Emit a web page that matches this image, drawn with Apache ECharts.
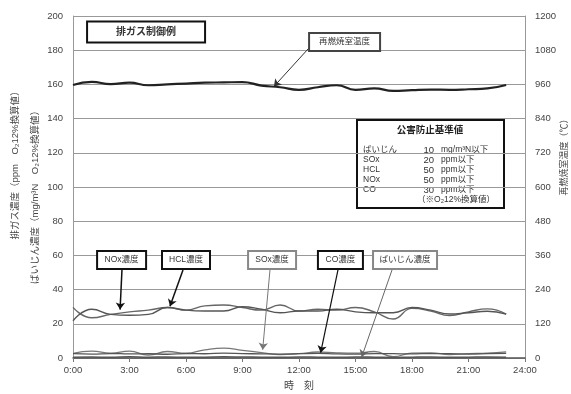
<!DOCTYPE html>
<html>
<head>
<meta charset="utf-8">
<script src="https://cdn.jsdelivr.net/npm/echarts@6/dist/echarts.min.js"></script>
<style>html,body{margin:0;padding:0;background:#fff}#c{width:571px;height:394px}</style>
</head>
<body>
<div id="c"></div>
<script>
// ---- data ----
const hours = [0,1,2,3,4,5,6,7,8,9,10,11,12,13,14,15,16,17,18,19,20,21,22,23];
const tempC  = [958,969,961,966,957,960,963,966,967,968,956,950,941,950,957,941,946,937,940,942,941,943,946,958];
const noxPpm = [29.6,23.5,25.5,27,28,29.5,28,30.5,31,29.5,28,31,27.5,28.5,28,29.5,27,22.8,29,27.5,24.8,27,28.7,25.7];
const hclPpm = [21.8,28.5,25.5,25,25.5,29.5,28,27.5,27.5,30,28.5,26.5,27.5,27.5,28.5,27,26.5,26.5,29.5,28,25.7,26.5,27.3,25.7];
const soxPpm = [2.7,4,2.8,4,1.7,3.8,2.8,4.8,5.8,4.5,3.2,2,2.5,3.5,3,2.8,3.8,0.8,2.8,3,2,2.5,2.8,3.6];
const coPpm  = [2.5,2.3,2.6,2.4,2.5,2.2,2.6,2.5,2.8,2.6,2.4,2.3,2.5,2.7,2.4,2.3,2.6,2.5,2.4,2.6,2.5,2.3,2.5,2.7];
const dustMg = [0.5,0.6,0.4,0.7,0.5,0.6,0.4,0.5,0.7,0.6,0.5,0.4,0.6,0.5,0.4,0.6,0.5,0.3,0.5,0.6,0.4,0.5,0.6,0.5];
const timeLabels = ['0:00','3:00','6:00','9:00','12:00','15:00','18:00','21:00','24:00'];
const leftTicks  = [0,20,40,60,80,100,120,140,160,180,200];
const rightTicks = [0,120,240,360,480,600,720,840,960,1080,1200];
const seriesNames = ['NOx濃度','HCL濃度','SOx濃度','CO濃度','ばいじん濃度'];
const standardRows = [
  ['ばいじん','10','mg/m³N以下'],
  ['SOx','20','ppm以下'],
  ['HCL','50','ppm以下'],
  ['NOx','50','ppm以下'],
  ['CO','30','ppm以下']
];
// ---- chart ----
const FONT = "'Liberation Sans','Noto Sans CJK JP',sans-serif";
const pairs = arr => hours.map((h,i)=>[h,arr[i]]);
const chart = echarts.init(document.getElementById('c'), null, {renderer:'canvas'});

function box(name, t, v, w, h, border, bold, fs){
  return {name:name, coord:[t,v], symbol:'rect', symbolSize:0,
    itemStyle:{color:'transparent'},
    label:{show:true, position:'inside', formatter:'{b}', color:'#333', fontSize:fs||8.5,
      fontWeight: bold?'bold':'normal', fontFamily:FONT,
      backgroundColor:'#fff', borderColor:border, borderWidth:2, padding:0,
      width:w-2, height:h-2, lineHeight:h-2, align:'center', verticalAlign:'middle'}};
}
function arrow(t1,v1,t2,v2,color,w){
  return [{coord:[t1,v1], lineStyle:{color:color,width:w,type:'solid'}},{coord:[t2,v2]}];
}

const option = {
  animation:false,
  textStyle:{fontFamily:FONT},
  grid:{left:73, right:46, top:16, bottom:36, containLabel:false, outerBoundsMode:'none'},
  xAxis:{type:'value', min:0, max:24, interval:3,
    axisLine:{show:true, lineStyle:{color:'#555', width:1.5}},
    axisTick:{show:true, length:4, lineStyle:{color:'#777'}},
    axisLabel:{color:'#444', fontSize:9.5, margin:8, formatter:v=>timeLabels[Math.round(v/3)]},
    splitLine:{show:false},
    name:'時　刻', nameLocation:'middle', nameGap:23,
    nameTextStyle:{color:'#444', fontSize:10}},
  yAxis:[
    {type:'value', min:leftTicks[0], max:leftTicks[leftTicks.length-1], interval:leftTicks[1]-leftTicks[0],
     axisLine:{show:true, lineStyle:{color:'#999'}}, axisTick:{show:false},
     axisLabel:{color:'#444', fontSize:9.5, margin:10, formatter:v=>String(v)},
     splitLine:{show:true, lineStyle:{color:'#999', width:1}}},
    {type:'value', min:rightTicks[0], max:rightTicks[rightTicks.length-1], interval:rightTicks[1]-rightTicks[0],
     position:'right',
     axisLine:{show:true, lineStyle:{color:'#999'}}, axisTick:{show:false},
     axisLabel:{color:'#444', fontSize:9.5, margin:10, formatter:v=>String(v)},
     splitLine:{show:false}}
  ],
  series:[
    {name:'再燃焼室温度', type:'line', yAxisIndex:1, data:pairs(tempC), smooth:0.5, symbol:'none',
     lineStyle:{color:'#222', width:2.2}, z:5},
    {name:seriesNames[0], type:'line', data:pairs(noxPpm), smooth:0.5, symbol:'none',
     lineStyle:{color:'#666', width:1.4}, z:4},
    {name:seriesNames[1], type:'line', data:pairs(hclPpm), smooth:0.5, symbol:'none',
     lineStyle:{color:'#555', width:1.4}, z:4},
    {name:seriesNames[2], type:'line', data:pairs(soxPpm), smooth:0.5, symbol:'none',
     lineStyle:{color:'#777', width:1.3}, z:4},
    {name:seriesNames[3], type:'line', data:pairs(coPpm), smooth:0.5, symbol:'none',
     lineStyle:{color:'#555', width:1.3}, z:4},
    {name:seriesNames[4], type:'line', data:pairs(dustMg), smooth:0.5, symbol:'none',
     lineStyle:{color:'#555', width:1.5}, z:4},
    {name:'annotations', type:'line', data:[], silent:true, z:6,
     markLine:{silent:true, symbol:['none','arrow'], symbolSize:7, label:{show:false},
       emphasis:{disabled:true},
       data:[
         arrow(12.53,181.3,10.67,158.8,'#333',1),
         arrow(2.60,51.5,2.50,28.3,'#111',1.5),
         arrow(5.84,51.5,5.15,30.2,'#111',1.5),
         arrow(10.46,51.5,10.07,4.8,'#777',1),
         arrow(14.07,51.5,13.15,3.1,'#111',1.2),
         arrow(16.94,51.5,15.33,0.6,'#666',1)
       ]},
     markPoint:{silent:true, emphasis:{disabled:true},
       data:[
         box('排ガス制御例',3.88,190.6,118,21,'#111',true,10),
         box('再燃焼室温度',14.42,184.8,71,18,'#444',false,8.5),
         box(seriesNames[0],2.58,57.3,49,18,'#111',false),
         box(seriesNames[1],6.0,57.3,48,18,'#111',false),
         box(seriesNames[2],10.57,57.3,48,18,'#888',false),
         box(seriesNames[3],14.2,57.3,45,18,'#111',false),
         box(seriesNames[4],17.63,57.3,64,18,'#888',false)
       ]}
    }
  ],
  graphic:[
    {type:'text', x:15, y:163, rotation:Math.PI/2,
     style:{text:'排ガス濃度（ppm　O₂12%換算値）', fill:'#444', font:'9.5px '+FONT, textAlign:'center', textVerticalAlign:'middle'}},
    {type:'text', x:35, y:195, rotation:Math.PI/2,
     style:{text:'ばいじん濃度（mg/m³N　O₂12%換算値）', fill:'#444', font:'9.5px '+FONT, textAlign:'center', textVerticalAlign:'middle'}},
    {type:'text', x:565, y:155, rotation:Math.PI/2,
     style:{text:'再燃焼室温度（℃）', fill:'#444', font:'9px '+FONT, textAlign:'center', textVerticalAlign:'middle'}},
    {type:'group', left:356, top:119, z:10, children:(function(){
      const ch = [
        {type:'rect', shape:{x:0,y:0,width:147,height:88}, style:{fill:'#fff', stroke:'#111', lineWidth:2}},
        {type:'text', x:73, y:10, style:{text:'公害防止基準値', fill:'#222', font:'bold 9.5px '+FONT, textAlign:'center', textVerticalAlign:'middle'}}
      ];
      standardRows.forEach((r,i)=>{
        const yy = 30 + i*10;
        ch.push({type:'text', x:6, y:yy, style:{text:r[0], fill:'#333', font:'8.5px '+FONT, textVerticalAlign:'middle'}});
        ch.push({type:'text', x:77, y:yy, style:{text:r[1], fill:'#333', font:'9.5px '+FONT, textAlign:'right', textVerticalAlign:'middle'}});
        ch.push({type:'text', x:84, y:yy, style:{text:r[2], fill:'#333', font:'8.5px '+FONT, textVerticalAlign:'middle'}});
      });
      ch.push({type:'text', x:138, y:80, style:{text:'（※O₂12%換算値）', fill:'#333', font:'8.5px '+FONT, textAlign:'right', textVerticalAlign:'middle'}});
      return ch;
    })()}
  ]
};
chart.setOption(option);
</script>
</body>
</html>
